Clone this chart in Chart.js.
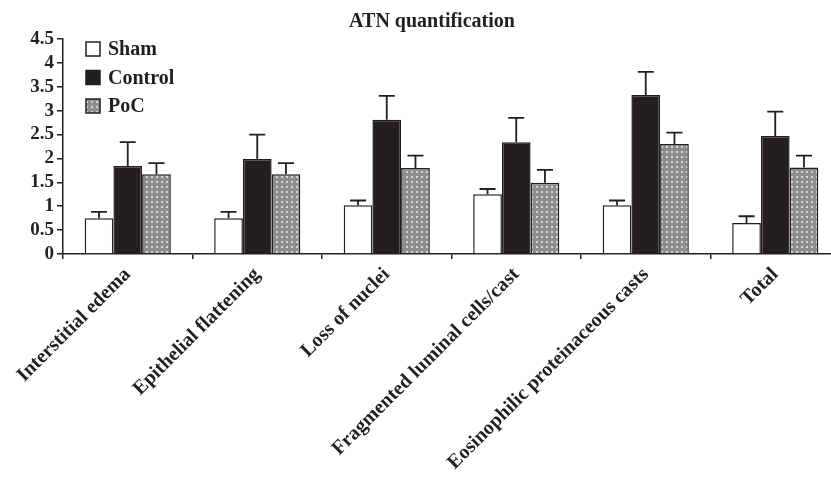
<!DOCTYPE html>
<html>
<head>
<meta charset="utf-8">
<script src="https://cdn.jsdelivr.net/npm/chart.js@4/dist/chart.umd.min.js"></script>
<style>
  body { margin: 0; background: #fff; overflow: hidden; }
</style>
</head>
<body>
<canvas id="myChart" width="842" height="486"></canvas>
<script>
var categories = ["Interstitial edema", "Epithelial flattening", "Loss of nuclei",
  "Fragmented luminal cells/cast", "Eosinophilic proteinaceous casts", "Total"];
var shamValues    = [0.75, 0.75, 1.02, 1.25, 1.02, 0.65];
var shamErrors    = [0.13, 0.13, 0.10, 0.11, 0.10, 0.14];
var controlValues = [1.84, 1.99, 2.81, 2.34, 3.33, 2.47];
var controlErrors = [0.50, 0.51, 0.50, 0.51, 0.48, 0.51];
var pocValues     = [1.67, 1.67, 1.80, 1.49, 2.30, 1.81];
var pocErrors     = [0.23, 0.23, 0.26, 0.27, 0.24, 0.25];
var yTicks = [0, 0.5, 1, 1.5, 2, 2.5, 3, 3.5, 4, 4.5];
var chartTitle = "ATN quantification";

var serif = "'Liberation Serif', 'Times New Roman', serif";

// grey with light dots for PoC
function dotPattern() {
  var c = document.createElement("canvas");
  c.width = 5; c.height = 5;
  var g = c.getContext("2d");
  g.fillStyle = "#8e8e8e";
  g.fillRect(0, 0, 5, 5);
  g.fillStyle = "#d4d4d4";
  g.fillRect(1, 1, 2, 2);
  return g.createPattern(c, "repeat");
}

var errorBars = {
  id: "errorBars",
  afterDatasetsDraw: function(chart) {
    var ctx = chart.ctx;
    var yScale = chart.scales.y;
    ctx.save();
    ctx.strokeStyle = "#231f20";
    ctx.lineWidth = 1.8;
    chart.data.datasets.forEach(function(ds, i) {
      var meta = chart.getDatasetMeta(i);
      meta.data.forEach(function(bar, j) {
        var top = yScale.getPixelForValue(ds.data[j] + ds.errors[j]);
        ctx.beginPath();
        ctx.moveTo(bar.x, bar.y);
        ctx.lineTo(bar.x, top);
        ctx.moveTo(bar.x - 8, top);
        ctx.lineTo(bar.x + 8, top);
        ctx.stroke();
      });
    });
    ctx.restore();
  }
};

// title and in-plot legend
var extras = {
  id: "extras",
  afterDraw: function(chart) {
    var ctx = chart.ctx;
    ctx.save();
    ctx.fillStyle = "#231f20";
    ctx.font = "bold 20px " + serif;
    ctx.textAlign = "center";
    ctx.textBaseline = "alphabetic";
    ctx.fillText(chartTitle, 432, 27);

    ctx.textAlign = "left";
    ctx.textBaseline = "middle";
    chart.data.datasets.forEach(function(ds, i) {
      var y = 49 + i * 28.5;
      ctx.fillStyle = ds.backgroundColor;
      ctx.fillRect(86, y - 7, 14, 14);
      ctx.strokeStyle = "#231f20";
      ctx.lineWidth = 1.5;
      ctx.strokeRect(86, y - 7, 14, 14);
      ctx.fillStyle = "#231f20";
      ctx.fillText(ds.label, 108, y + 1);
    });
    ctx.restore();
  }
};

new Chart("myChart", {
  type: "bar",
  data: {
    labels: categories,
    datasets: [
      { label: "Sham", data: shamValues, errors: shamErrors,
        backgroundColor: "#ffffff", borderColor: "#231f20", borderWidth: 1.5 },
      { label: "Control", data: controlValues, errors: controlErrors,
        backgroundColor: "#231f20", borderColor: "#231f20", borderWidth: 1.5 },
      { label: "PoC", data: pocValues, errors: pocErrors,
        backgroundColor: dotPattern(), borderColor: "#231f20", borderWidth: 1.5 }
    ]
  },
  options: {
    responsive: false,
    animation: false,
    layout: { padding: { top: 39, right: 2 } },
    datasets: { bar: { categoryPercentage: 0.665, barPercentage: 1 } },
    plugins: {
      legend: { display: false },
      tooltip: { enabled: false },
      title: { display: false }
    },
    scales: {
      x: {
        border: { color: "#231f20", width: 1.5 },
        grid: { drawOnChartArea: false, drawTicks: true, tickLength: 5, color: "#231f20", lineWidth: 1.5 },
        ticks: {
          color: "#231f20",
          font: { family: serif, size: 20, weight: "bold" },
          minRotation: 45, maxRotation: 45, padding: 4
        },
        afterFit: function(s) { s.height = 232; }
      },
      y: {
        min: 0, max: 4.5,
        afterBuildTicks: function(s) { s.ticks = yTicks.map(function(v) { return { value: v }; }); },
        border: { color: "#231f20", width: 1.5 },
        grid: { drawOnChartArea: false, drawTicks: true, tickLength: 6, color: "#231f20", lineWidth: 1.5 },
        ticks: {
          color: "#231f20",
          autoSkip: false,
          font: { family: serif, size: 19, weight: "bold" },
          padding: 3,
          callback: function(v) { return String(v); }
        },
        afterFit: function(s) { s.width = 63; }
      }
    }
  },
  plugins: [errorBars, extras]
});
</script>
</body>
</html>
